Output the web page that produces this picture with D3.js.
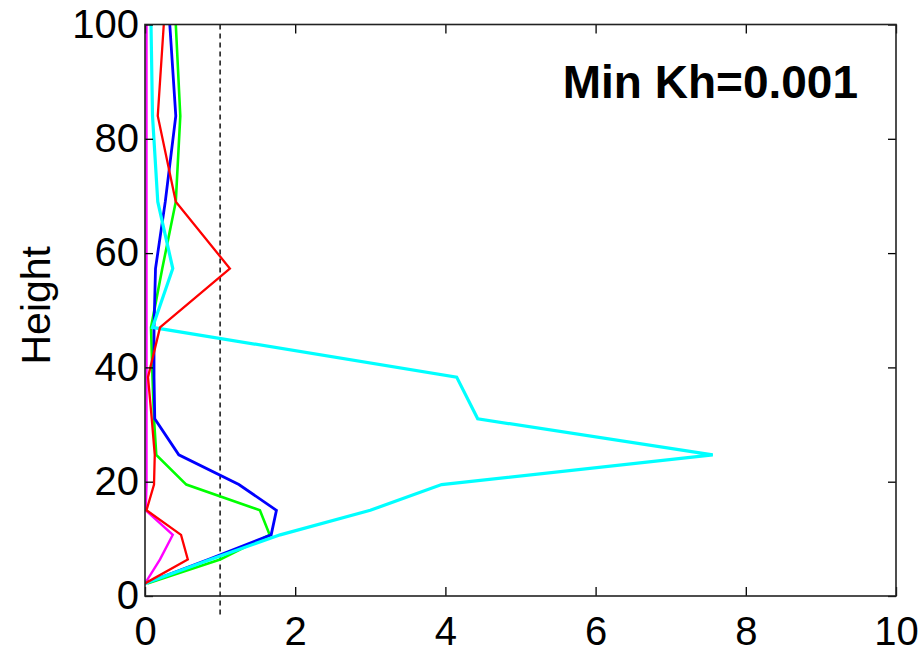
<!DOCTYPE html>
<html>
<head>
<meta charset="utf-8">
<script src="https://cdn.jsdelivr.net/npm/d3@7"></script>
<style>
  body { margin: 0; background: #fff; }
  svg { display: block; }
  .tick text { font-family: "Liberation Sans", Arial, sans-serif; }
</style>
</head>
<body>
<svg id="chart" width="922" height="658"></svg>
<script>
// height levels of the profile nodes
var heights = [2.2, 6.4, 10.7, 15, 19.5, 24.7, 31, 38.3, 47, 57.3, 69, 84, 100];

// values at each height, one array per curve
var magentaVals = [0, 0.2, 0.37, 0.01, 0.02, 0.02, 0.02, 0.02, 0.02, 0.02, 0.02, 0.02, 0.02];
var redVals     = [0, 0.57, 0.48, 0.02, 0.12, 0.13, 0.09, 0.04, 0.2, 1.13, 0.41, 0.17, 0.25];
var greenVals   = [0.03, 1.0, 1.66, 1.53, 0.55, 0.15, 0.12, 0.1, 0.08, 0.23, 0.41, 0.47, 0.41];
var blueVals    = [0, 0.85, 1.68, 1.75, 1.25, 0.45, 0.13, 0.12, 0.12, 0.14, 0.27, 0.41, 0.33];
var cyanVals    = [0, 0.87, 1.8, 3.0, 3.95, 7.56, 4.43, 4.15, 0.1, 0.37, 0.17, 0.1, 0.08];

var xTicks = [0, 2, 4, 6, 8, 10];
var yTicks = [0, 20, 40, 60, 80, 100];
var refValue = 1;   // dashed reference line
var label = "Min Kh=0.001";

var margin = {left: 145, right: 26, top: 24.5, bottom: 62};
var width = 922 - margin.left - margin.right;
var height = 658 - margin.top - margin.bottom;

var svg = d3.select("#chart");
var g = svg.append("g").attr("transform", "translate(" + margin.left + "," + margin.top + ")");

var x = d3.scaleLinear().domain([0, 10]).range([0, width]);
var y = d3.scaleLinear().domain([0, 100]).range([height, 0]);

var series = [
  {vals: magentaVals, color: "#ff00ff", w: 2.4},
  {vals: greenVals, color: "#00ff00", w: 2.6},
  {vals: blueVals, color: "#0000ff", w: 2.8},
  {vals: cyanVals, color: "#00ffff", w: 3.2},
  {vals: redVals, color: "#ff0000", w: 2.3}
];

var line = d3.line()
  .x(function(d) { return x(d.v); })
  .y(function(d) { return y(d.h); });

g.append("defs").append("clipPath").attr("id", "clip")
  .append("rect").attr("width", width).attr("height", height);

// dashed line at x = 1 (runs slightly below the axis like the original)
g.append("line")
  .attr("x1", x(refValue)).attr("x2", x(refValue))
  .attr("y1", y(100)).attr("y2", y(-3.4))
  .attr("stroke", "#000").attr("stroke-width", 1.4)
  .attr("stroke-dasharray", "5,4");

var lines = g.append("g").attr("clip-path", "url(#clip)");
series.forEach(function(s) {
  var pts = heights.map(function(h, i) { return {h: h, v: s.vals[i]}; });
  lines.append("path")
    .datum(pts)
    .attr("d", line)
    .attr("fill", "none")
    .attr("stroke", s.color)
    .attr("stroke-width", s.w)
    .attr("stroke-linejoin", "miter");
});

// axes with inward ticks
var xAxis = d3.axisBottom(x).tickValues(xTicks).tickSizeInner(-9).tickSizeOuter(0).tickPadding(21);
var yAxis = d3.axisLeft(y).tickValues(yTicks).tickSizeInner(-8).tickSizeOuter(0).tickPadding(6);

var gx = g.append("g").attr("transform", "translate(0," + height + ")").call(xAxis);
var gy = g.append("g").call(yAxis);
g.append("g").call(d3.axisTop(x).tickValues(xTicks).tickSizeInner(-9).tickSizeOuter(0).tickFormat(""));
g.append("g").attr("transform", "translate(" + width + ",0)")
  .call(d3.axisRight(y).tickValues(yTicks).tickSizeInner(-8).tickSizeOuter(0).tickFormat(""));

g.selectAll(".domain").remove();
g.selectAll(".tick line").attr("stroke", "#000").attr("stroke-width", 1.3);
gx.selectAll("text").attr("font-size", 40).attr("fill", "#000");
gy.selectAll("text").attr("font-size", 40).attr("fill", "#000");

// box
g.append("rect")
  .attr("width", width).attr("height", height)
  .attr("fill", "none").attr("stroke", "#222").attr("stroke-width", 1.6);

// axis title
svg.append("text")
  .attr("transform", "translate(50," + (margin.top + height / 2 - 5) + ") rotate(-90)")
  .attr("text-anchor", "middle")
  .attr("font-family", "Liberation Sans, Arial, sans-serif")
  .attr("font-size", 41)
  .text("Height");

// annotation
g.append("text")
  .attr("x", 713).attr("y", 73.5)
  .attr("text-anchor", "end")
  .attr("font-family", "Liberation Sans, Arial, sans-serif")
  .attr("font-weight", "bold")
  .attr("font-size", 46)
  .text(label);
</script>
</body>
</html>
